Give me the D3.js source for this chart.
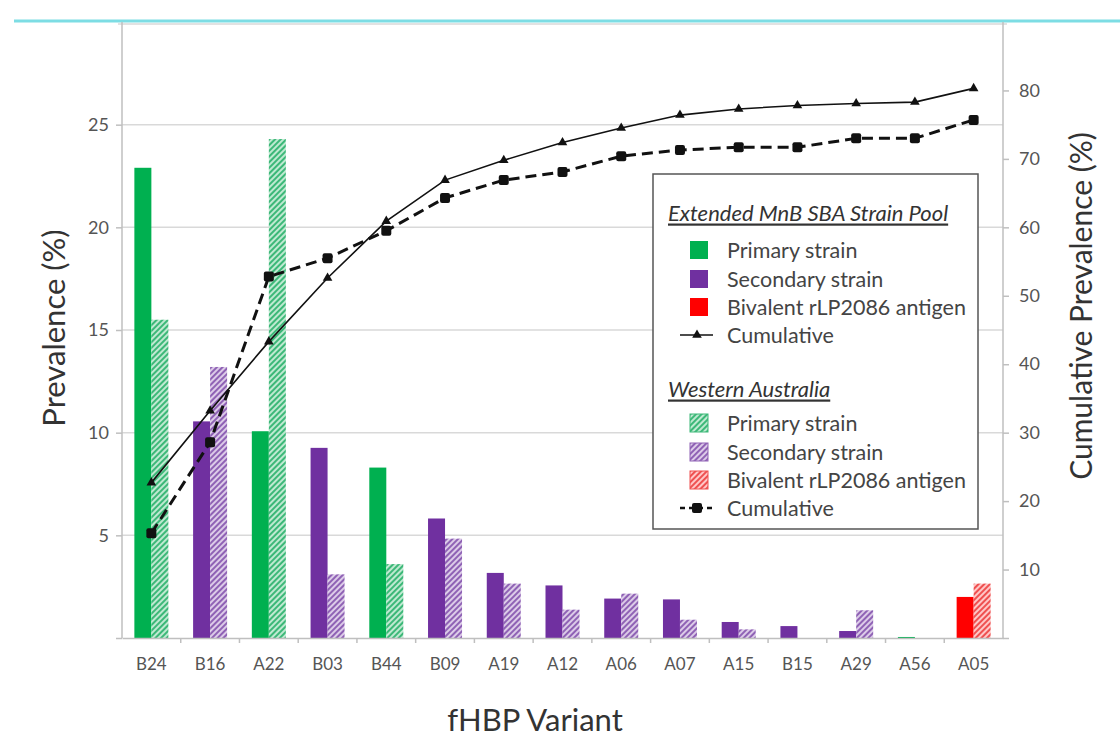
<!DOCTYPE html>
<html><head><meta charset="utf-8">
<script src="https://cdn.jsdelivr.net/npm/d3@7"></script>
<style>body{margin:0;background:#fff}svg{display:block}text{font-family:Lato,"Open Sans",sans-serif}</style>
</head><body><svg id="c" width="1120" height="743"></svg>
<script>
const categories = ["B24","B16","A22","B03","B44","B09","A19","A12","A06","A07","A15","B15","A29","A56","A05"];
// Extended MnB SBA strain pool prevalence (%)
const poolPrev = [22.9,10.55,10.07,9.26,8.3,5.82,3.17,2.56,1.92,1.88,0.78,0.58,0.34,0.05,2.0];
// Western Australia prevalence (%)
const waPrev   = [15.5,13.2,24.3,3.1,3.6,4.84,2.65,1.38,2.16,0.89,0.42,0,1.35,0,2.65];
// strain type per category: P primary, S secondary, B bivalent antigen
const strainType = ["P","S","P","S","P","S","S","S","S","S","S","S","S","P","B"];
const poolCum = [22.7,33.2,43.3,52.6,60.9,66.9,69.8,72.4,74.5,76.4,77.3,77.8,78.1,78.3,80.3];
const waCum   = [15.3,28.6,52.8,55.5,59.5,64.3,66.9,68.1,70.4,71.3,71.7,71.7,73.0,73.0,75.7];
const leftTicks = [0,5,10,15,20,25];
const rightTicks = [0,10,20,30,40,50,60,70,80];

const colors = {P:"#00b050",S:"#7030a0",B:"#ff0000"};
const hatchBg = {P:"#bfe9d1",S:"#dccbe8",B:"#ffc7c7"};
const hatchFg = {P:"#3cb878",S:"#8f62b5",B:"#ef5050"};

const svg = d3.select("#c");
const L=122, R=1003, T=22, B=638;
const x = d3.scaleBand().domain(categories).range([L,R]);
const yL = d3.scaleLinear().domain([0,30]).range([B,T]);
const yR = d3.scaleLinear().domain([0,90]).range([B,T]);
const barW = 17;

// patterns
const defs = svg.append("defs");
Object.keys(colors).forEach(k=>{
  const p = defs.append("pattern").attr("id","h"+k).attr("patternUnits","userSpaceOnUse")
    .attr("width",4).attr("height",4).attr("patternTransform","rotate(45)");
  p.append("rect").attr("width",4).attr("height",4).attr("fill",hatchBg[k]);
  p.append("rect").attr("x",0).attr("width",2).attr("height",4).attr("fill",hatchFg[k]);
});

// top cyan line
svg.append("line").attr("x1",14).attr("x2",1120).attr("y1",21).attr("y2",21)
  .attr("stroke","#7ddde4").attr("stroke-width",3);
svg.append("line").attr("x1",L-4).attr("x2",R+4).attr("y1",24).attr("y2",24)
  .attr("stroke","#e2e2e2").attr("stroke-width",2);

// gridlines
svg.append("g").selectAll("line").data(leftTicks.filter(d=>d>0)).join("line")
  .attr("x1",L).attr("x2",R).attr("y1",d=>yL(d)).attr("y2",d=>yL(d))
  .attr("stroke","#d9d9d9").attr("stroke-width",1.5);

// bars
const g = svg.append("g");
categories.forEach((c,i)=>{
  const cx = x(c)+x.bandwidth()/2;
  const t = strainType[i];
  g.append("rect").attr("x",cx-barW).attr("width",barW)
    .attr("y",yL(poolPrev[i])).attr("height",B-yL(poolPrev[i])).attr("fill",colors[t]);
  if(waPrev[i]>0) g.append("rect").attr("x",cx).attr("width",barW)
    .attr("y",yL(waPrev[i])).attr("height",B-yL(waPrev[i])).attr("fill","url(#h"+t+")");
});

// axes
const axL = svg.append("g").attr("transform",`translate(${L},0)`)
  .call(d3.axisLeft(yL).tickValues(leftTicks).tickSize(6).tickFormat(d=>d===0?"":d));
const axR = svg.append("g").attr("transform",`translate(${R},0)`)
  .call(d3.axisRight(yR).tickValues(rightTicks).tickSize(6).tickFormat(d=>d===0?"":d));
const axB = svg.append("g").attr("transform",`translate(0,${B})`)
  .call(d3.axisBottom(x).tickSize(0).tickPadding(20));
[axL,axR,axB].forEach(a=>{
  a.select(".domain").attr("stroke","#bfbfbf").attr("stroke-width",1.5);
  a.selectAll(".tick line").attr("stroke","#bfbfbf").attr("stroke-width",1.5);
  a.selectAll("text").attr("fill","#555").style("font-family","Lato,sans-serif");
});
axL.select(".domain").attr("d",`M0,${T}V${B}`);
axR.select(".domain").attr("d",`M0,${T}V${B}`);
axL.selectAll("text").attr("font-size",18).attr("x",-13);
axR.selectAll("text").attr("font-size",18).attr("x",16);
axB.selectAll("text").attr("font-size",17);
// bottom ticks between categories
svg.append("g").selectAll("line").data(categories.slice(1)).join("line")
  .attr("x1",d=>x(d)).attr("x2",d=>x(d)).attr("y1",B).attr("y2",B+5)
  .attr("stroke","#bfbfbf").attr("stroke-width",1.5);

// cumulative lines
const cx = d=>x(d)+x.bandwidth()/2;
const lineP = d3.line().x((d,i)=>cx(categories[i])).y(d=>yR(d));
svg.append("path").attr("d",lineP(poolCum)).attr("fill","none").attr("stroke","#111").attr("stroke-width",1.6);
svg.append("path").attr("d",lineP(waCum)).attr("fill","none").attr("stroke","#111")
  .attr("stroke-width",3).attr("stroke-dasharray","11,6");
svg.append("g").selectAll("path").data(poolCum).join("path")
  .attr("d",d3.symbol(d3.symbolTriangle,40)())
  .attr("transform",(d,i)=>`translate(${cx(categories[i])},${yR(d)})`).attr("fill","#111");
svg.append("g").selectAll("rect").data(waCum).join("rect")
  .attr("x",(d,i)=>cx(categories[i])-5).attr("y",d=>yR(d)-5).attr("width",10).attr("height",10)
  .attr("rx",2).attr("fill","#111");

// axis titles
svg.append("text").attr("transform","translate(53,328) rotate(-90)").attr("text-anchor","middle")
  .attr("dominant-baseline","central").attr("font-size",31).attr("fill","#333").text("Prevalence (%)");
svg.append("text").attr("transform","translate(1080,306) rotate(-90)").attr("text-anchor","middle")
  .attr("dominant-baseline","central").attr("font-size",30).attr("fill","#333").text("Cumulative Prevalence (%)");
svg.append("text").attr("x",535).attr("y",731).attr("text-anchor","middle")
  .attr("font-size",31).attr("fill","#333").text("fHBP Variant");

// legend
const lg = svg.append("g");
lg.append("rect").attr("x",653).attr("y",174).attr("width",325).attr("height",355)
  .attr("fill","#fff").attr("stroke","#555").attr("stroke-width",1.5);
const legTitles = ["Extended MnB SBA Strain Pool","Western Australia"];
const legLabels = ["Primary strain","Secondary strain","Bivalent rLP2086 antigen","Cumulative"];
const legKeys = ["P","S","B"];
const titleY = [212,388], rowY = [[250,279,307,335],[423,452,480,508]];
legTitles.forEach((t,gi)=>{
  lg.append("text").attr("x",668).attr("y",titleY[gi]).attr("dominant-baseline","central")
    .attr("font-size",22).attr("font-style","italic").attr("fill","#333")
    .attr("text-decoration","underline").text(t);
  legLabels.forEach((lab,j)=>{
    const yy = rowY[gi][j];
    lg.append("text").attr("x",727).attr("y",yy).attr("dominant-baseline","central")
      .attr("font-size",21.5).attr("fill","#444").text(lab);
    if(j<3){
      const k = legKeys[j];
      lg.append("rect").attr("x",690).attr("y",yy-9).attr("width",18).attr("height",18)
        .attr("fill",gi===0?colors[k]:"url(#h"+k+")")
        .attr("stroke",gi===0?"none":hatchFg[k]).attr("stroke-width",1);
    } else {
      lg.append("line").attr("x1",680).attr("x2",713).attr("y1",yy).attr("y2",yy)
        .attr("stroke","#111").attr("stroke-width",gi===0?1.6:2.5).attr("stroke-dasharray",gi===0?null:"5,4");
      if(gi===0) lg.append("path").attr("d",d3.symbol(d3.symbolTriangle,40)())
        .attr("transform",`translate(697,${yy})`).attr("fill","#111");
      else lg.append("rect").attr("x",692).attr("y",yy-5).attr("width",10).attr("height",10).attr("rx",2).attr("fill","#111");
    }
  });
});
</script></body></html>
